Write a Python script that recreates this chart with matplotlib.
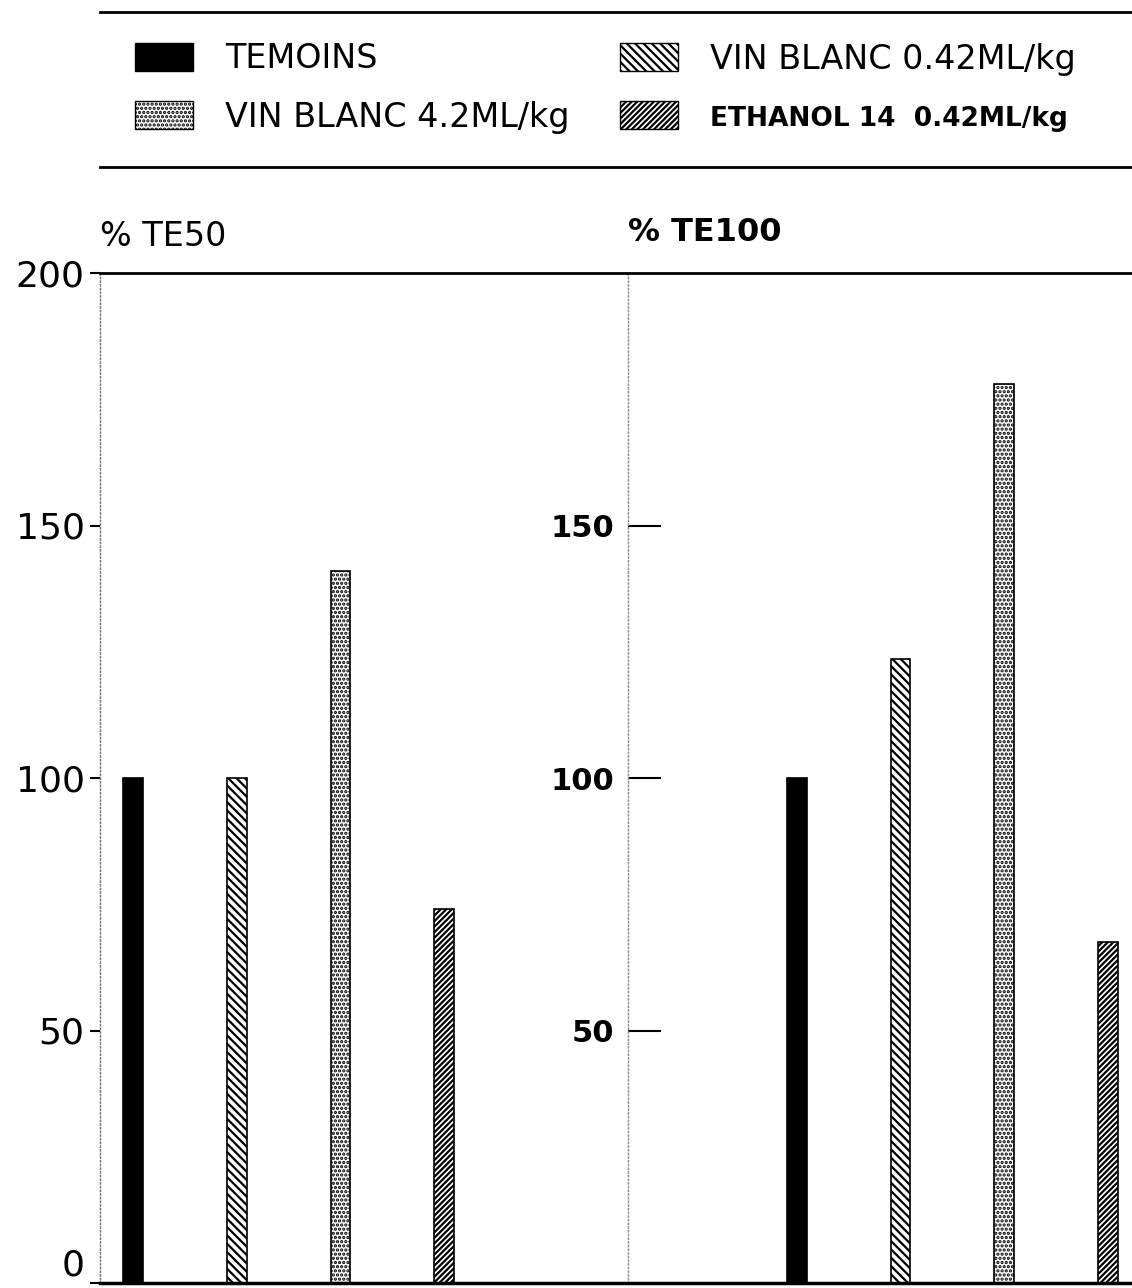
import numpy as np
import matplotlib
matplotlib.use('Agg')
import matplotlib.pyplot as plt
from matplotlib.patches import Patch
from matplotlib.lines import Line2D

#----------------------------------------------------------------------

series = ['TEMOINS', 'VIN BLANC 0.42ML/kg', 'VIN BLANC 4.2ML/kg', 'ETHANOL 14  0.42ML/kg']
te50 = [100, 100, 141, 74]
te100 = [100, 123.5, 178, 67.5]

left_ticks = [0, 50, 100, 150, 200]
mid_ticks = [50, 100, 150]

hatches = ['', '\\\\\\\\', '....', '//////']
faces = ['black', 'white', 'white', 'white']

#----------------------------------------------------------------------

def main():

	plt.rcParams['hatch.linewidth'] = 1.6
	fig = plt.figure(figsize=(11.32, 12.88), dpi=100)

	rect = [100/1132, 1-1283/1288, 1032/1132, (1283-273)/1288]

	# middle scale (% TE100), drawn first so the main axes sits on top
	ax2 = fig.add_axes(rect)
	ax2.patch.set_visible(False)
	for s in ['top', 'right', 'bottom']:
		ax2.spines[s].set_visible(False)
	ax2.spines['left'].set_position(('axes', 0.512))
	ax2.spines['left'].set_linestyle(':')
	ax2.spines['left'].set_color('0.55')
	ax2.spines['left'].set_linewidth(1)
	ax2.set_ylim(0, 200)
	ax2.set_xticks([])
	ax2.set_yticks(mid_ticks)
	ax2.set_yticklabels([str(t) for t in mid_ticks], fontsize=22, fontweight='bold')
	ax2.tick_params(axis='y', direction='in', length=24, width=1.5, pad=10)

	# main axes: left spine at x=100px, y 0 -> 1283px, 200 -> 273px
	ax = fig.add_axes(rect)
	ax.patch.set_visible(False)

	pos50 = np.arange(4)
	pos100 = pos50 + 6.4
	w = 0.19

	for i in range(4):
		ax.bar(pos50[i], te50[i], w, color=faces[i], edgecolor='black',
			hatch=hatches[i], linewidth=1.2)
		ax.bar(pos100[i], te100[i], w, color=faces[i], edgecolor='black',
			hatch=hatches[i], linewidth=1.2)

	ax.set_xlim(-0.318, 9.633)
	ax.set_ylim(0, 200)
	ax2.set_xlim(ax.get_xlim())
	ax.set_xticks([])
	ax.set_yticks(left_ticks)
	ax.set_yticklabels([str(t) for t in left_ticks], fontsize=26)
	ax.tick_params(axis='y', direction='out', length=7, width=1.5, pad=4)
	ax.get_yticklabels()[0].set_va('bottom')

	ax.spines['right'].set_visible(False)
	ax.spines['top'].set_linewidth(2)
	ax.spines['bottom'].set_linewidth(2.5)
	ax.spines['left'].set_linestyle(':')
	ax.spines['left'].set_color('0.45')
	ax.spines['left'].set_linewidth(1)

	ax.text(0.0, 1.02, '% TE50', transform=ax.transAxes, fontsize=24,
		ha='left', va='bottom')
	ax.text(0.512, 1.025, '% TE100', transform=ax.transAxes, fontsize=23,
		fontweight='bold', ha='left', va='bottom')

	# legend box
	order = [0, 2, 1, 3]
	handles = [Patch(facecolor=faces[i], edgecolor='black', hatch=hatches[i])
		for i in order]
	labels = [series[i] for i in order]
	leg = fig.legend(handles, labels, ncol=2, loc='center left',
		bbox_to_anchor=(105/1132, 1-88/1288), frameon=False, fontsize=24,
		handlelength=1.75, handleheight=0.95, handletextpad=0.95,
		columnspacing=1.5, labelspacing=0.75)
	for t in leg.get_texts():
		if t.get_text().startswith('ETHANOL'):
			t.set_fontweight('bold')
			t.set_fontsize(19)

	fig.add_artist(Line2D([100/1132, 1], [1-12/1288, 1-12/1288], color='black', lw=2))
	fig.add_artist(Line2D([100/1132, 1], [1-167/1288, 1-167/1288], color='black', lw=2))

	fig.savefig('out.png', dpi=100)

#----------------------------------------------------------------------

if __name__ == '__main__':
	main()
